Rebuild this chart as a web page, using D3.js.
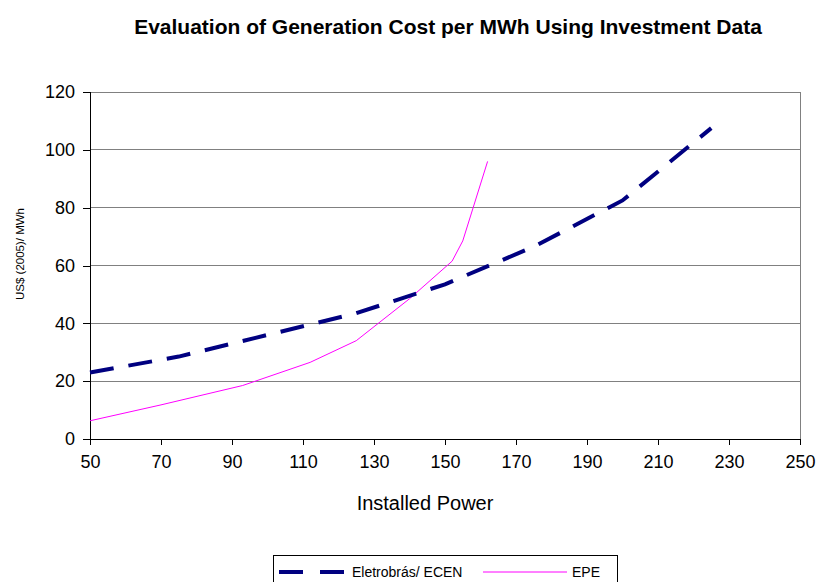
<!DOCTYPE html>
<html>
<head>
<meta charset="utf-8">
<script src="https://cdn.jsdelivr.net/npm/d3@7"></script>
<style>
  body { margin: 0; background: #fff; }
  svg { font-family: Arial, "Liberation Sans", sans-serif; }
</style>
</head>
<body>
<svg id="chart" width="819" height="582"></svg>
<script>
// values
var ecenX = [50, 75, 100, 125, 150, 175, 200, 225];
var ecenY = [23, 28.5, 36, 43.5, 53.5, 66.5, 82.5, 107.5];
var epeX = [50, 70, 93, 112, 125, 140, 152, 155, 162];
var epeY = [6.3, 11.8, 18.5, 26.5, 34, 48.5, 61.5, 68.5, 96];
var xTicks = [50, 70, 90, 110, 130, 150, 170, 190, 210, 230, 250];
var yTicks = [0, 20, 40, 60, 80, 100, 120];
var seriesNames = ["Eletrobrás/ ECEN", "EPE"];

var svg = d3.select("#chart"),
    plotL = 90, plotR = 800, plotT = 92, plotB = 439;

var x = d3.scaleLinear().domain([50, 250]).range([plotL, plotR]);
var y = d3.scaleLinear().domain([0, 120]).range([plotB, plotT]);

// title
svg.append("text")
    .attr("x", 448).attr("y", 34)
    .attr("text-anchor", "middle")
    .attr("font-size", "21px").attr("font-weight", "bold")
    .text("Evaluation of Generation Cost per MWh Using Investment Data");

// gridlines
svg.append("g").selectAll("line")
    .data(yTicks.filter(function(d){ return d > 0; }))
    .enter().append("line")
    .attr("x1", plotL).attr("x2", plotR)
    .attr("y1", function(d){ return y(d); })
    .attr("y2", function(d){ return y(d); })
    .attr("stroke", "#808080").attr("stroke-width", 1)
    .attr("shape-rendering", "crispEdges");

// right border
svg.append("line")
    .attr("x1", plotR).attr("x2", plotR).attr("y1", plotT).attr("y2", plotB)
    .attr("stroke", "#808080").attr("shape-rendering", "crispEdges");

// axes
var xAxis = svg.append("g")
    .attr("transform", "translate(0," + plotB + ")")
    .call(d3.axisBottom(x).tickValues(xTicks).tickSize(6).tickPadding(10));
var yAxis = svg.append("g")
    .attr("transform", "translate(" + plotL + ",0)")
    .call(d3.axisLeft(y).tickValues(yTicks).tickSize(7).tickPadding(8));

[xAxis, yAxis].forEach(function(g){
    g.select(".domain").attr("stroke", "#000").attr("shape-rendering", "crispEdges");
    g.selectAll(".tick line").attr("stroke", "#000").attr("shape-rendering", "crispEdges");
    g.selectAll(".tick text").attr("font-size", "18px").attr("fill", "#000")
        .attr("font-family", "Arial, 'Liberation Sans', sans-serif");
});
xAxis.select(".domain").attr("d", "M" + plotL + ",0.5H" + plotR);
yAxis.select(".domain").attr("d", "M0.5," + plotT + "V" + plotB);

// axis titles
svg.append("text")
    .attr("x", 425).attr("y", 510)
    .attr("text-anchor", "middle")
    .attr("font-size", "20px")
    .text("Installed Power");

svg.append("text")
    .attr("transform", "translate(24,254) rotate(-90)")
    .attr("text-anchor", "middle")
    .attr("font-size", "11.5px")
    .text("US$ (2005)/ MWh");

// lines
var line = d3.line()
    .x(function(d){ return x(d[0]); })
    .y(function(d){ return y(d[1]); });

var ecen = ecenX.map(function(v, i){ return [v, ecenY[i]]; });
var epe = epeX.map(function(v, i){ return [v, epeY[i]]; });

svg.append("path")
    .datum(epe)
    .attr("d", line)
    .attr("fill", "none")
    .attr("stroke", "#ff00ff")
    .attr("stroke-width", 1);

svg.append("path")
    .datum(ecen)
    .attr("d", line)
    .attr("fill", "none")
    .attr("stroke", "#000080")
    .attr("stroke-width", 4)
    .attr("stroke-dasharray", "24,15");

// legend
var lg = svg.append("g");
lg.append("rect")
    .attr("x", 273.5).attr("y", 555.5)
    .attr("width", 344).attr("height", 40)
    .attr("fill", "#fff").attr("stroke", "#000").attr("stroke-width", 1);

lg.append("line")
    .attr("x1", 279).attr("x2", 345).attr("y1", 572).attr("y2", 572)
    .attr("stroke", "#000080").attr("stroke-width", 4)
    .attr("stroke-dasharray", "24,17");
lg.append("text")
    .attr("x", 352).attr("y", 577)
    .attr("font-size", "14px")
    .text(seriesNames[0]);

lg.append("line")
    .attr("x1", 483).attr("x2", 567).attr("y1", 572).attr("y2", 572)
    .attr("stroke", "#ff00ff").attr("stroke-width", 1);
lg.append("text")
    .attr("x", 572).attr("y", 577)
    .attr("font-size", "14px")
    .text(seriesNames[1]);
</script>
</body>
</html>
